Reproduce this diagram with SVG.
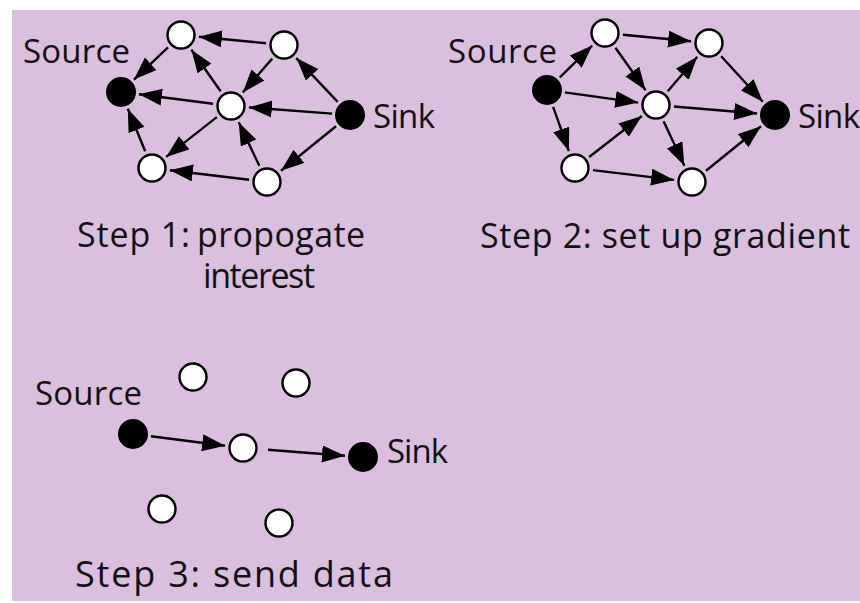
<svg xmlns="http://www.w3.org/2000/svg" width="860" height="603" viewBox="0 0 860 603">
<defs>
<style>
.bg{fill:#dabfde}
.w{fill:#fff;stroke:#000;stroke-width:2.4}
.b{fill:#000;stroke:#000;stroke-width:2}
.e{stroke:#000;stroke-width:2.4;fill:none;marker-end:url(#ah)}
text{font-family:"Open Sans","Noto Sans","DejaVu Sans",sans-serif;fill:#111;font-size:33px}
.lbl{font-size:34px}
</style>
<marker id="ah" markerUnits="userSpaceOnUse" markerWidth="25" markerHeight="18" refX="23" refY="8.5" orient="auto">
<path d="M0,0 L23,8.5 L0,17 z" fill="#000"/>
</marker>
</defs>
<rect class="bg" x="12" y="10" width="848" height="591"/>

<!-- Step 1 -->
<g id="connectors-step1">
<line class="e" x1="168" y1="47.4" x2="134" y2="79.6"/>
<line class="e" x1="266.1" y1="43.3" x2="198.9" y2="36.7"/>
<line class="e" x1="272.2" y1="58.6" x2="242.8" y2="92.4"/>
<line class="e" x1="220.6" y1="91.3" x2="191.4" y2="49.7"/>
<line class="e" x1="213.1" y1="103.7" x2="138.9" y2="94.3"/>
<line class="e" x1="332.1" y1="113.6" x2="248.9" y2="107.4"/>
<line class="e" x1="337.7" y1="101.9" x2="296.3" y2="58.1"/>
<line class="e" x1="336" y1="126.3" x2="281" y2="170.7"/>
<line class="e" x1="216.8" y1="117.1" x2="166.2" y2="156.9"/>
<line class="e" x1="259.3" y1="165.7" x2="238.7" y2="122.3"/>
<line class="e" x1="249.1" y1="179.8" x2="169.9" y2="170.2"/>
<line class="e" x1="145.2" y1="151.3" x2="127.8" y2="108.7"/>
</g>
<g id="s1-source"><circle class="b" cx="121" cy="92" r="14"/><text x="23" y="63" textLength="107">Source</text></g>
<g id="s1-n1"><circle class="w" cx="181" cy="35" r="13.5"/></g>
<g id="s1-n2"><circle class="w" cx="284" cy="45" r="13.5"/></g>
<g id="s1-n3"><circle class="w" cx="231" cy="106" r="13.5"/></g>
<g id="s1-sink"><circle class="b" cx="350" cy="115" r="14"/><text x="373" y="128" textLength="62">Sink</text></g>
<g id="s1-n4"><circle class="w" cx="152" cy="168" r="13.5"/></g>
<g id="s1-n5"><circle class="w" cx="267" cy="182" r="13.5"/></g>
<g id="s1-label"><text class="lbl" x="77" y="247" textLength="113">Step 1:</text><text class="lbl" x="197" y="247" textLength="168">propogate</text><text class="lbl" x="203" y="288" textLength="112">interest</text></g>

<!-- Step 2 -->
<g id="connectors-step2">
<line class="e" x1="559.8" y1="77.4" x2="592.2" y2="45.6"/>
<line class="e" x1="564.8" y1="92.4" x2="638.2" y2="102.6"/>
<line class="e" x1="553.1" y1="106.9" x2="568.9" y2="151.1"/>
<line class="e" x1="622.9" y1="34.7" x2="691.1" y2="41.3"/>
<line class="e" x1="615.4" y1="47.7" x2="645.6" y2="90.3"/>
<line class="e" x1="667.7" y1="91.3" x2="697.3" y2="56.7"/>
<line class="e" x1="673.9" y1="106.5" x2="757.1" y2="113.5"/>
<line class="e" x1="663.6" y1="121.3" x2="684.4" y2="165.7"/>
<line class="e" x1="721.2" y1="56.3" x2="762.8" y2="101.7"/>
<line class="e" x1="589.2" y1="157" x2="641.8" y2="116"/>
<line class="e" x1="592.9" y1="170.1" x2="674.1" y2="179.9"/>
<line class="e" x1="706" y1="170.7" x2="761" y2="126.3"/>
</g>
<g id="s2-source"><circle class="b" cx="547" cy="90" r="14"/><text x="448" y="63" textLength="109">Source</text></g>
<g id="s2-n1"><circle class="w" cx="605" cy="33" r="13.5"/></g>
<g id="s2-n2"><circle class="w" cx="709" cy="43" r="13.5"/></g>
<g id="s2-n3"><circle class="w" cx="656" cy="105" r="13.5"/></g>
<g id="s2-sink"><circle class="b" cx="775" cy="115" r="14"/><text x="798" y="128" textLength="62">Sink</text></g>
<g id="s2-n4"><circle class="w" cx="575" cy="168" r="13.5"/></g>
<g id="s2-n5"><circle class="w" cx="692" cy="182" r="13.5"/></g>
<g id="s2-label"><text class="lbl" x="480" y="248" textLength="370">Step 2: set up gradient</text></g>

<!-- Step 3 -->
<g id="connectors-step3">
<line class="e" x1="151" y1="436.3" x2="225.1" y2="445.7"/>
<line class="e" x1="268" y1="449.8" x2="345" y2="455.7"/>
</g>
<g id="s3-n1"><circle class="w" cx="193" cy="377" r="13.5"/></g>
<g id="s3-n2"><circle class="w" cx="296" cy="383" r="13.5"/></g>
<g id="s3-source"><circle class="b" cx="133" cy="434" r="14"/><text x="35" y="405" textLength="107">Source</text></g>
<g id="s3-n3"><circle class="w" cx="243" cy="448" r="13.5"/></g>
<g id="s3-sink"><circle class="b" cx="363" cy="457" r="14"/><text x="387" y="463" textLength="61">Sink</text></g>
<g id="s3-n4"><circle class="w" cx="162" cy="509" r="13.5"/></g>
<g id="s3-n5"><circle class="w" cx="279" cy="523" r="13.5"/></g>
<g id="s3-label"><text class="lbl" x="75" y="587" textLength="318" style="font-size:36px">Step 3: send data</text></g>
</svg>
